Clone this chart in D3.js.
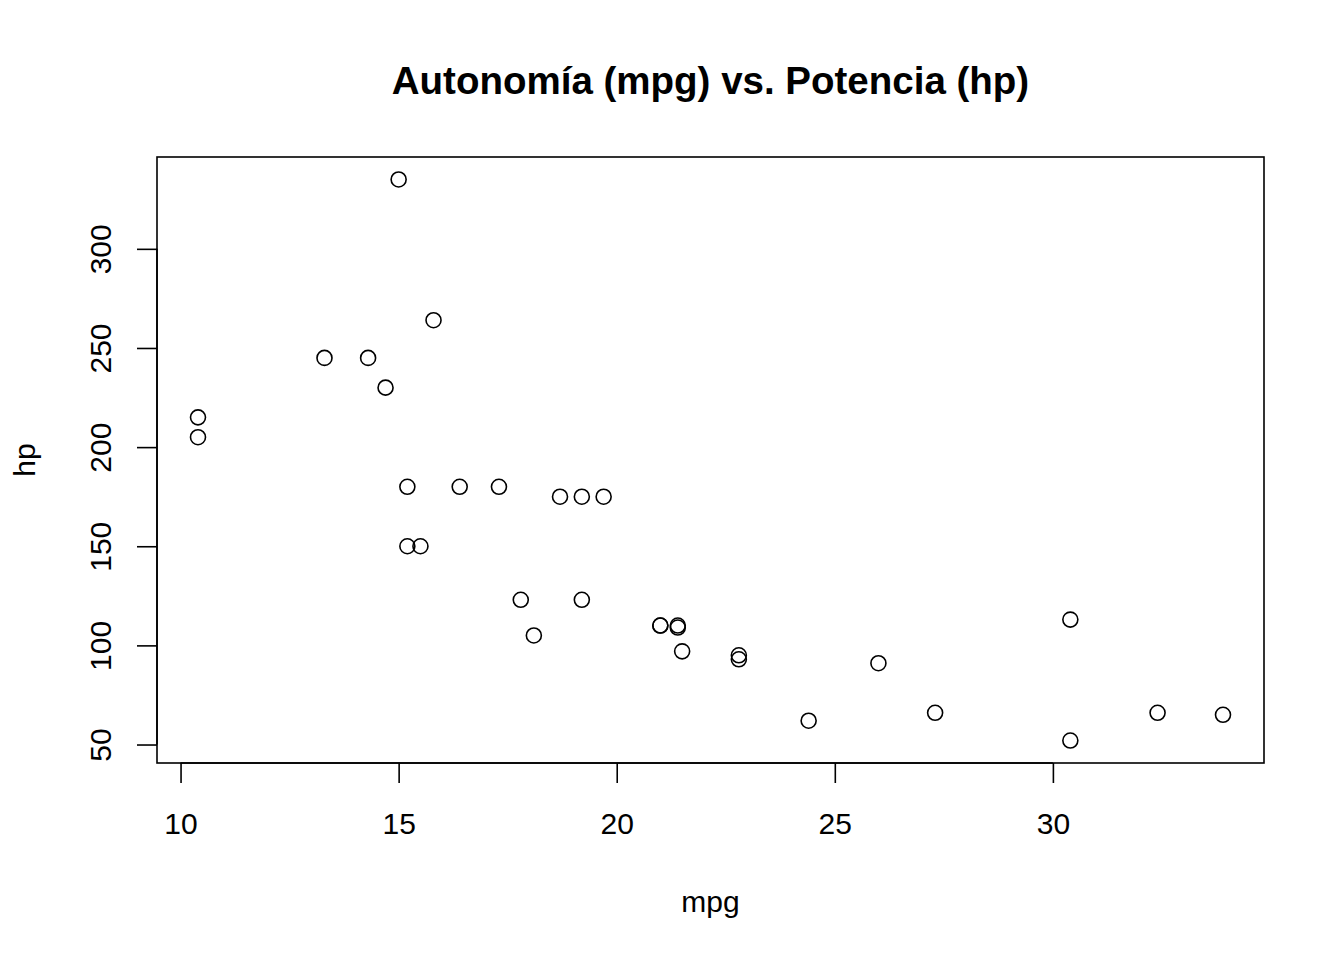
<!DOCTYPE html>
<html>
<head>
<meta charset="utf-8">
<script src="https://cdn.jsdelivr.net/npm/d3@7"></script>
<style>
  body { margin: 0; background: #fff; }
  text { font-family: "Liberation Sans", Arial, sans-serif; fill: #000; }
</style>
</head>
<body>
<div id="chart"></div>
<script>
// mtcars: mpg vs hp
const mpg = [21.0, 21.0, 22.8, 21.4, 18.7, 18.1, 14.3, 24.4, 22.8, 19.2, 17.8, 16.4, 17.3, 15.2, 10.4, 10.4,
             14.7, 32.4, 30.4, 33.9, 21.5, 15.5, 15.2, 13.3, 19.2, 27.3, 26.0, 30.4, 15.8, 19.7, 15.0, 21.4];
const hp = [110, 110, 93, 110, 175, 105, 245, 62, 95, 123, 123, 180, 180, 180, 205, 215,
            230, 66, 52, 65, 97, 150, 150, 245, 175, 66, 91, 113, 264, 175, 335, 109];
const xTicks = [10, 15, 20, 25, 30];
const yTicks = [50, 100, 150, 200, 250, 300];

const width = 1344, height = 960;
const margin = {top: 157, right: 80, bottom: 197, left: 157};

const svg = d3.select("#chart").append("svg")
    .attr("width", width)
    .attr("height", height);

// R style: extend range by 4% on each side
const pad = (ext) => { const d = (ext[1] - ext[0]) * 0.04; return [ext[0] - d, ext[1] + d]; };

const x = d3.scaleLinear()
    .domain(pad(d3.extent(mpg)))
    .range([margin.left, width - margin.right]);
const y = d3.scaleLinear()
    .domain(pad(d3.extent(hp)))
    .range([height - margin.bottom, margin.top]);

const x0 = margin.left, x1 = width - margin.right;
const y0 = margin.top, y1 = height - margin.bottom;

// box
svg.append("rect")
    .attr("x", x0).attr("y", y0)
    .attr("width", x1 - x0).attr("height", y1 - y0)
    .attr("fill", "none").attr("stroke", "#000").attr("stroke-width", 1.6);

// x axis
const xAxis = svg.append("g").attr("transform", `translate(0,${y1})`)
    .call(d3.axisBottom(x).tickValues(xTicks).tickSize(20).tickPadding(30).tickSizeOuter(0));
xAxis.select(".domain").attr("d", `M${x(xTicks[0])},0H${x(xTicks[xTicks.length - 1])}`).attr("stroke-width", 1.6);
xAxis.selectAll(".tick line").attr("stroke-width", 1.6);
xAxis.selectAll("text").style("font-size", "30px").attr("fill", "#000");

// y axis
const yAxis = svg.append("g").attr("transform", `translate(${x0},0)`)
    .call(d3.axisLeft(y).tickValues(yTicks).tickSize(20).tickSizeOuter(0));
yAxis.select(".domain").attr("d", `M0,${y(yTicks[0])}V${y(yTicks[yTicks.length - 1])}`).attr("stroke-width", 1.6);
yAxis.selectAll(".tick line").attr("stroke-width", 1.6);
yAxis.selectAll("text")
    .attr("x", null).attr("dy", null)
    .attr("text-anchor", "middle")
    .attr("transform", "translate(-57,0) rotate(-90)")
    .attr("dy", "0.35em")
    .style("font-size", "30px").attr("fill", "#000");

// points
svg.append("g").selectAll("circle")
    .data(mpg.map((m, i) => ({mpg: m, hp: hp[i]})))
    .join("circle")
    .attr("cx", d => x(d.mpg))
    .attr("cy", d => y(d.hp))
    .attr("r", 7.5)
    .attr("fill", "none")
    .attr("stroke", "#000")
    .attr("stroke-width", 1.6);

// labels
svg.append("text")
    .attr("x", (x0 + x1) / 2).attr("y", 94)
    .attr("text-anchor", "middle")
    .style("font-size", "38.5px").style("font-weight", "bold")
    .text("Autonomía (mpg) vs. Potencia (hp)");

svg.append("text")
    .attr("x", (x0 + x1) / 2).attr("y", 912)
    .attr("text-anchor", "middle")
    .style("font-size", "30px")
    .text("mpg");

svg.append("text")
    .attr("transform", `translate(35,${(y0 + y1) / 2}) rotate(-90)`)
    .attr("text-anchor", "middle")
    .style("font-size", "30px")
    .text("hp");
</script>
</body>
</html>
